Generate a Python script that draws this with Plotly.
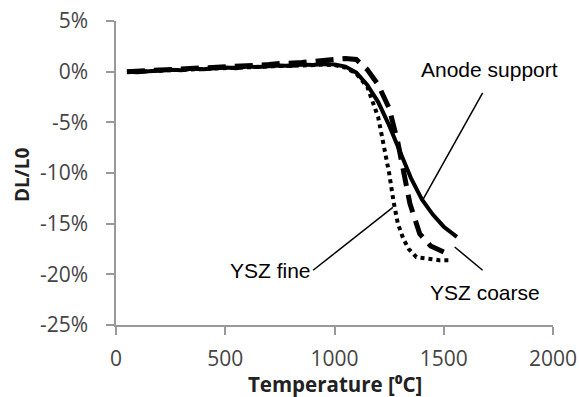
import plotly.graph_objects as go

# Anode support (solid)
anode_T = [50, 100, 150, 200, 250, 300, 350, 400, 450, 500, 550, 600, 650, 700, 750, 800, 850, 900, 950,
           1000, 1050, 1100, 1150, 1200, 1250, 1300, 1350, 1400, 1450, 1500, 1560]
anode_dl = [0.0, -0.05, 0.05, 0.1, 0.2, 0.15, 0.3, 0.25, 0.35, 0.4, 0.35, 0.5, 0.45, 0.55, 0.6, 0.55, 0.7, 0.65, 0.75,
            0.7, 0.5, -0.1, -1.3, -3.0, -5.3, -7.9, -10.5, -12.6, -14.1, -15.3, -16.3]

# YSZ coarse (dashed)
coarse_T = [50, 100, 150, 200, 250, 300, 350, 400, 450, 500, 550, 600, 650, 700, 750, 800, 850, 900, 950,
            1000, 1050, 1100, 1150, 1200, 1250, 1290, 1315, 1345, 1390, 1440, 1500]
coarse_dl = [0.0, 0.05, 0.1, 0.15, 0.2, 0.3, 0.25, 0.4, 0.45, 0.5, 0.5, 0.6, 0.6, 0.7, 0.8, 0.8, 0.9, 1.0, 1.1,
             1.2, 1.3, 1.2, 0.2, -1.3, -3.6, -7.0, -10.0, -13.0, -16.0, -17.2, -17.8]

# YSZ fine (dotted)
fine_T = [50, 100, 150, 200, 250, 300, 350, 400, 450, 500, 550, 600, 650, 700, 750, 800, 850, 900, 950,
          1000, 1050, 1100, 1150, 1200, 1230, 1250, 1270, 1290, 1315, 1340, 1375, 1430, 1480, 1530]
fine_dl = [0.0, 0.0, 0.05, 0.1, 0.15, 0.2, 0.25, 0.3, 0.35, 0.35, 0.4, 0.45, 0.5, 0.5, 0.55, 0.6, 0.6, 0.65, 0.7,
           0.65, 0.4, -0.2, -1.5, -4.5, -7.7, -10.0, -12.8, -15.0, -16.5, -17.5, -18.3, -18.5, -18.6, -18.6]

x_ticks = [0, 500, 1000, 1500, 2000]
y_ticks = [5, 0, -5, -10, -15, -20, -25]
y_tick_labels = ["5%", "0%", "-5%", "-10%", "-15%", "-20%", "-25%"]

# leader lines: (x0, y0, x1, y1)
leaders = [
    (1678, -2.1, 1404, -12.65),
    (902, -19.6, 1267, -13.4),
    (1550, -17.3, 1678, -19.6),
]

fig = go.Figure()
fig.add_trace(go.Scatter(x=fine_T, y=fine_dl, mode="lines",
                         line=dict(color="black", width=4, dash="4px,4px"), showlegend=False))
fig.add_trace(go.Scatter(x=coarse_T, y=coarse_dl, mode="lines",
                         line=dict(color="black", width=5, dash="18px,9px"), showlegend=False))
fig.add_trace(go.Scatter(x=anode_T, y=anode_dl, mode="lines",
                         line=dict(color="black", width=4), showlegend=False))

for x0, y0, x1, y1 in leaders:
    fig.add_shape(type="line", x0=x0, y0=y0, x1=x1, y1=y1, xref="x", yref="y",
                  line=dict(color="black", width=1.5))

lab_font = dict(family="Liberation Sans, Arial", size=21, color="black")
fig.add_annotation(x=1710, y=0.2, text="Anode support", showarrow=False,
                   xanchor="center", yanchor="middle", font=lab_font)
fig.add_annotation(x=902, y=-19.6, text="YSZ fine", showarrow=False, xanchor="right",
                   yanchor="middle", font=lab_font)
fig.add_annotation(x=1687, y=-21.8, text="YSZ coarse", showarrow=False,
                   xanchor="center", yanchor="middle", font=lab_font)

axis_font = dict(family="Open Sans", size=21, color="#444")
fig.update_xaxes(range=[0, 2000], tickvals=x_ticks, showgrid=False, zeroline=False,
                 showline=True, linecolor="#999", linewidth=1.5, automargin=False,
                 ticks="outside", ticklen=8, tickcolor="#999", tickwidth=1.5,
                 tickfont=axis_font, ticklabelstandoff=6)
fig.update_yaxes(range=[-25, 5], tickvals=y_ticks, ticktext=y_tick_labels, showgrid=False, zeroline=False,
                 showline=True, linecolor="#999", linewidth=1.5, automargin=False,
                 ticks="outside", ticklen=8, tickcolor="#999", tickwidth=1.5,
                 tickfont=axis_font, ticklabelstandoff=14)

fig.add_annotation(xref="paper", yref="paper", x=(22 - 116) / 437, y=(397 - 72 - 175) / 304,
                   xanchor="center", yanchor="middle",
                   text="<b>DL/L0</b>", textangle=-90, showarrow=False,
                   font=dict(family="Open Sans", size=19, color="#222"))
fig.add_annotation(xref="paper", yref="paper", x=0.5, y=-(384 - 325) / 304,
                   xanchor="center", yanchor="middle",
                   text="<b>Temperature [⁰C]</b>", showarrow=False,
                   font=dict(family="Open Sans", size=20.5, color="#222"))

fig.update_layout(width=579, height=397, margin=dict(l=116, r=26, t=21, b=72, autoexpand=False),
                  plot_bgcolor="white", paper_bgcolor="white")

fig.write_html("out.html")
